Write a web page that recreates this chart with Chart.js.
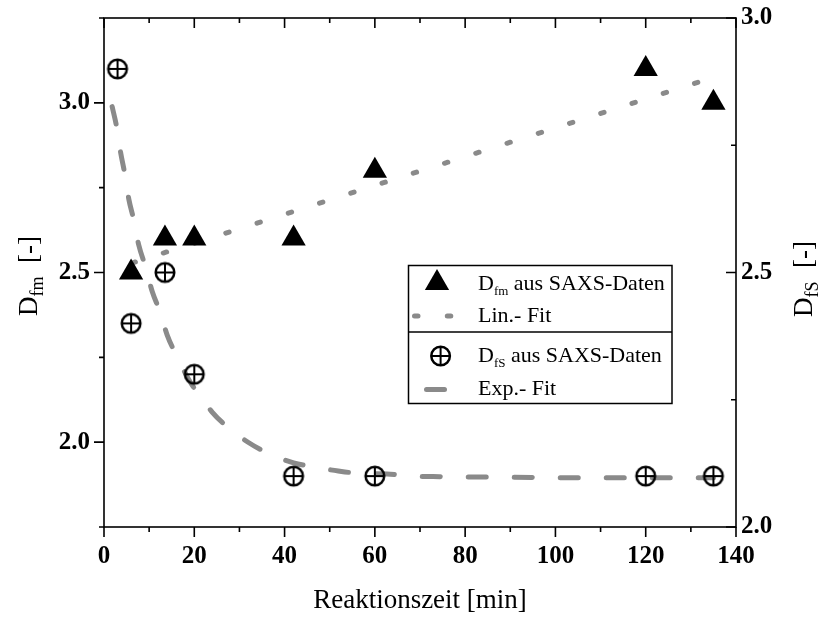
<!DOCTYPE html>
<html>
<head>
<meta charset="utf-8">
<script src="https://cdn.jsdelivr.net/npm/chart.js@4/dist/chart.umd.min.js"></script>
<style>
  html,body{margin:0;padding:0;background:#fff;}
  #wrap{width:819px;height:619px;position:relative;}
</style>
</head>
<body>
<div id="wrap"><canvas id="chart" width="819" height="619"></canvas></div>
<script>
// ---------- data ----------
const dfmTime = [6, 13.5, 20, 42, 60, 120, 135];
const dfmVal  = [2.5, 2.6, 2.6, 2.6, 2.8, 3.1, 3.0];

const dfsTime = [3, 6, 13.5, 20, 42, 60, 120, 135];
const dfsVal  = [2.9, 2.4, 2.5, 2.3, 2.1, 2.1, 2.1, 2.1];

const linFitTime = [6, 135];
const linFitVal  = [2.527, 3.075];

const expFitTime = [1.8, 2.8, 3.7, 4.6, 5.5, 6.6, 7.7, 9.2, 10.7, 12.4, 14.0, 16.0, 19.5, 21.0, 24.0, 27.3, 32.0, 36.1, 42.0, 46.4, 51.9, 57.1, 62.7, 67.7, 72.9, 78.1, 83.7, 100, 120, 135];
const expFitVal  = [2.826, 2.786, 2.735, 2.694, 2.644, 2.603, 2.554, 2.511, 2.462, 2.423, 2.377, 2.338, 2.279, 2.263, 2.225, 2.197, 2.166, 2.146, 2.126, 2.118, 2.110, 2.105, 2.104, 2.100, 2.099, 2.098, 2.098, 2.097, 2.097, 2.097];

const xTicks      = [0, 20, 40, 60, 80, 100, 120, 140];
const xMinor      = [10, 30, 50, 70, 90, 110, 130];
const yLeftTicks  = [2.0, 2.5, 3.0];
const yLeftMinor  = [1.75, 2.25, 2.75, 3.25];
const yRightTicks = [2.0, 2.5, 3.0];
const yRightMinor = [2.25, 2.75];

// ---------- helpers ----------
const SERIF = "'Liberation Serif', 'Times New Roman', serif";
const GREY = '#8a8a8a';
const zip = (xs, ys) => xs.map((x, i) => ({x: x, y: ys[i]}));

function drawTri(ctx, x, y, r){
  ctx.beginPath();
  for(let k=0;k<3;k++){
    const a = k*2*Math.PI/3;
    const px = x + Math.sin(a)*r, py = y - Math.cos(a)*r;
    k ? ctx.lineTo(px, py) : ctx.moveTo(px, py);
  }
  ctx.closePath();
  ctx.fillStyle = '#000';
  ctx.fill();
}
function drawCirclePlus(ctx, x, y){
  ctx.save();
  ctx.strokeStyle = '#000';
  ctx.lineWidth = 2.5;
  ctx.beginPath(); ctx.arc(x, y, 9.3, 0, Math.PI*2); ctx.stroke();
  ctx.lineWidth = 2;
  ctx.beginPath();
  ctx.moveTo(x-9.3, y); ctx.lineTo(x+9.3, y);
  ctx.moveTo(x, y-9.3); ctx.lineTo(x, y+9.3);
  ctx.stroke();
  ctx.restore();
}
// marker image for the D_fS points
const cpImg = document.createElement('canvas');
cpImg.width = 24; cpImg.height = 24;
drawCirclePlus(cpImg.getContext('2d'), 12, 12);

// text run with subscripts, optionally rotated
function subText(ctx, parts, x, y, rot, align){
  ctx.save();
  ctx.translate(x, y);
  if(rot) ctx.rotate(rot);
  let total = 0;
  parts.forEach(p => { ctx.font = p.font; total += ctx.measureText(p.t).width; });
  let cx = align === 'center' ? -total/2 : 0;
  ctx.fillStyle = '#000';
  ctx.textBaseline = 'alphabetic';
  ctx.textAlign = 'left';
  parts.forEach(p => {
    ctx.font = p.font;
    ctx.fillText(p.t, cx, p.dy || 0);
    cx += ctx.measureText(p.t).width;
  });
  ctx.restore();
}

// ---------- frame, ticks, titles, legend ----------
const framePlugin = {
  id: 'frame',
  beforeDatasetsDraw(chart){
    const {ctx, chartArea: a, scales} = chart;
    const sx = scales.x, sl = scales.y, sr = scales.y2;
    ctx.save();
    ctx.strokeStyle = '#000';
    ctx.lineWidth = 1.6;
    ctx.strokeRect(a.left, a.top, a.right - a.left, a.bottom - a.top);
    ctx.beginPath();
    // bottom (outward) and top (inward)
    xTicks.forEach(v => { const p = sx.getPixelForValue(v);
      ctx.moveTo(p, a.bottom); ctx.lineTo(p, a.bottom + 10);
      ctx.moveTo(p, a.top); ctx.lineTo(p, a.top + 10); });
    xMinor.forEach(v => { const p = sx.getPixelForValue(v);
      ctx.moveTo(p, a.bottom); ctx.lineTo(p, a.bottom + 5);
      ctx.moveTo(p, a.top); ctx.lineTo(p, a.top + 5); });
    // left (outward)
    yLeftTicks.forEach(v => { const p = sl.getPixelForValue(v);
      ctx.moveTo(a.left, p); ctx.lineTo(a.left - 10, p); });
    yLeftMinor.forEach(v => { const p = sl.getPixelForValue(v);
      ctx.moveTo(a.left, p); ctx.lineTo(a.left - 5, p); });
    // right (inward)
    yRightTicks.forEach(v => { const p = sr.getPixelForValue(v);
      ctx.moveTo(a.right, p); ctx.lineTo(a.right - 10, p); });
    yRightMinor.forEach(v => { const p = sr.getPixelForValue(v);
      ctx.moveTo(a.right, p); ctx.lineTo(a.right - 5, p); });
    ctx.stroke();
    ctx.restore();
  },
  afterDraw(chart){
    const {ctx, chartArea: a} = chart;
    const big = '27px ' + SERIF, sub = '18px ' + SERIF;

    // axis titles
    subText(ctx, [{t:'Reaktionszeit [min]', font: big}], (a.left + a.right)/2, 608, 0, 'center');
    subText(ctx, [{t:'D', font: big}, {t:'fm', font: sub, dy: 6}, {t:'  [-]', font: big}], 37, 276, -Math.PI/2, 'center');
    subText(ctx, [{t:'D', font: big}, {t:'fS', font: sub, dy: 6}, {t:'  [-]', font: big}], 812, 279, -Math.PI/2, 'center');

    // legend
    ctx.save();
    ctx.strokeStyle = '#000';
    ctx.lineWidth = 1.5;
    ctx.strokeRect(408.5, 265.5, 263.5, 138);
    ctx.beginPath(); ctx.moveTo(408.5, 332); ctx.lineTo(672, 332); ctx.stroke();

    drawTri(ctx, 437, 283, 14);

    ctx.strokeStyle = GREY; ctx.lineWidth = 5; ctx.lineCap = 'round';
    ctx.setLineDash([3.5, 29.3]);
    ctx.beginPath(); ctx.moveTo(414.5, 316); ctx.lineTo(452, 316); ctx.stroke();
    ctx.setLineDash([]);
    ctx.beginPath(); ctx.moveTo(426.5, 389.5); ctx.lineTo(444.5, 389.5); ctx.stroke();
    ctx.restore();

    drawCirclePlus(ctx, 440.6, 356);

    const lf = '22px ' + SERIF, ls = '13px ' + SERIF;
    subText(ctx, [{t:'D', font: lf}, {t:'fm', font: ls, dy: 5}, {t:' aus SAXS-Daten', font: lf}], 478, 290, 0, 'left');
    subText(ctx, [{t:'Lin.- Fit', font: lf}], 478, 322, 0, 'left');
    subText(ctx, [{t:'D', font: lf}, {t:'fS', font: ls, dy: 5}, {t:' aus SAXS-Daten', font: lf}], 478, 362, 0, 'left');
    subText(ctx, [{t:'Exp.- Fit', font: lf}], 478, 395, 0, 'left');
  }
};

// ---------- chart ----------
const tickFont = {family: SERIF, size: 25, weight: 'bold'};

new Chart(document.getElementById('chart'), {
  type: 'scatter',
  data: {
    datasets: [
      {
        label: 'D_fm aus SAXS-Daten',
        data: zip(dfmTime, dfmVal),
        yAxisID: 'y',
        pointStyle: 'triangle',
        pointRadius: 14,
        pointBackgroundColor: '#000',
        pointBorderWidth: 0,
        showLine: false,
        clip: false
      },
      {
        label: 'D_fS aus SAXS-Daten',
        data: zip(dfsTime, dfsVal),
        yAxisID: 'y2',
        pointStyle: cpImg,
        pointRadius: 12,
        showLine: false,
        clip: false
      },
      {
        label: 'Lin.- Fit',
        data: zip(linFitTime, linFitVal),
        yAxisID: 'y',
        showLine: true,
        pointRadius: 0,
        borderColor: GREY,
        borderWidth: 5,
        borderCapStyle: 'round',
        borderDash: [3.5, 29.3],
        borderDashOffset: -1,
        clip: false
      },
      {
        label: 'Exp.- Fit',
        data: zip(expFitTime, expFitVal),
        yAxisID: 'y2',
        showLine: true,
        pointRadius: 0,
        borderColor: GREY,
        borderWidth: 5,
        borderCapStyle: 'round',
        borderDash: [18, 28],
        cubicInterpolationMode: 'monotone',
        clip: false
      }
    ]
  },
  options: {
    responsive: false,
    animation: false,
    events: [],
    layout: {padding: {top: 18, left: 0, right: 0, bottom: 0}},
    plugins: {legend: {display: false}, tooltip: {enabled: false}},
    scales: {
      x: {
        type: 'linear', position: 'bottom', min: 0, max: 140,
        grid: {display: false, drawTicks: false},
        border: {display: false},
        afterBuildTicks: s => { s.ticks = xTicks.map(v => ({value: v})); },
        afterFit: s => { s.height = 92; s.paddingLeft = 0; s.paddingRight = 0; },
        ticks: {font: tickFont, color: '#000', padding: 15, maxRotation: 0, autoSkip: false, callback: v => String(v)}
      },
      y: {
        type: 'linear', position: 'left', min: 1.75, max: 3.25,
        grid: {display: false, drawTicks: false},
        border: {display: false},
        afterBuildTicks: s => { s.ticks = yLeftTicks.map(v => ({value: v})); },
        afterFit: s => { s.width = 104; s.paddingTop = 0; s.paddingBottom = 0; },
        ticks: {font: tickFont, color: '#000', padding: 14, callback: v => Number(v).toFixed(1)}
      },
      y2: {
        type: 'linear', position: 'right', min: 2.0, max: 3.0,
        grid: {display: false, drawTicks: false},
        border: {display: false},
        afterBuildTicks: s => { s.ticks = yRightTicks.map(v => ({value: v})); },
        afterFit: s => { s.width = 83; s.paddingTop = 0; s.paddingBottom = 0; },
        ticks: {font: tickFont, color: '#000', padding: 5, callback: v => Number(v).toFixed(1)}
      }
    }
  },
  plugins: [framePlugin]
});
</script>
</body>
</html>
